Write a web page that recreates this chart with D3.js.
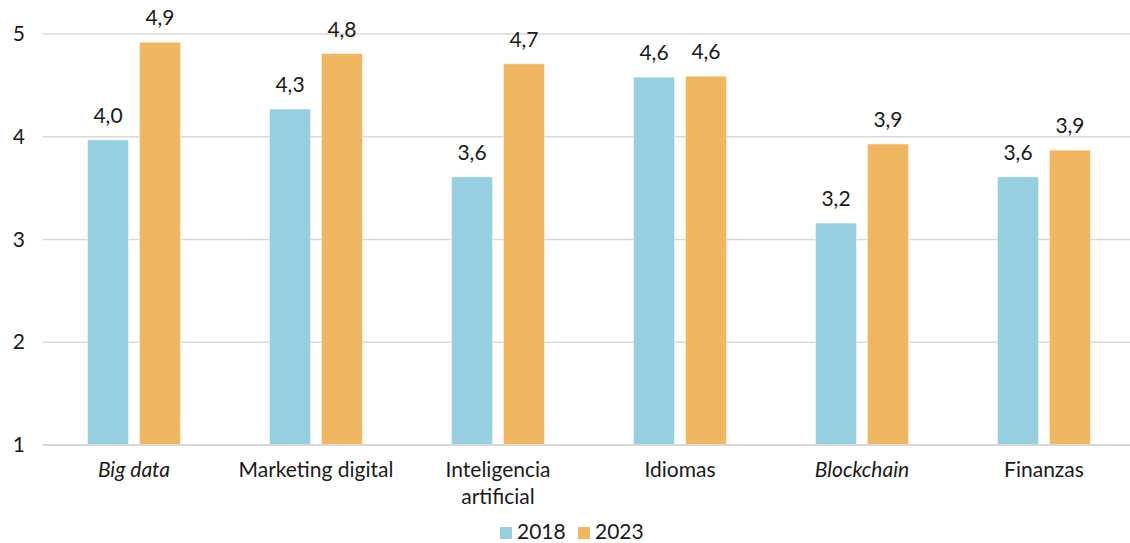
<!DOCTYPE html>
<html><head><meta charset="utf-8">
<script src="https://cdn.jsdelivr.net/npm/d3@7"></script>
<style>body{margin:0;background:#fff}svg{display:block}text{font-family:Lato,"Open Sans",sans-serif;fill:#1a1a1a}</style>
</head><body><svg id="c" width="1130" height="543"></svg>
<script>
const categories = ["Big data","Marketing digital","Inteligencia artificial","Idiomas","Blockchain","Finanzas"];
const italicCats = ["Big data","Blockchain"];
const seriesNames = ["2018","2023"];
const values2018 = [3.97,4.27,3.61,4.58,3.16,3.61];
const values2023 = [4.92,4.81,4.71,4.59,3.93,3.87];
const yTicks = [1,2,3,4,5];
const colors = ["#96cfdf","#f0b660"];

const svg = d3.select("#c");
const margin = {left:43, right:-5, top:34, bottom:98};
const W = 1130, H = 543;
const x0 = d3.scaleBand().domain(categories).range([margin.left, W - margin.right]).paddingInner(0).paddingOuter(0);
const x1 = d3.scaleBand().domain(seriesNames).range([0, x0.bandwidth()]).paddingInner(0.21).paddingOuter(0.856);
const y = d3.scaleLinear().domain([1,5]).range([H - margin.bottom, margin.top]);

// grid
svg.append("g").selectAll("line").data(yTicks).join("line")
  .attr("x1", margin.left).attr("x2", W).attr("y1", d=>y(d)).attr("y2", d=>y(d))
  .attr("stroke", "#d9d9d9").attr("stroke-width", 1.6);

// y axis labels
const yAxis = d3.axisLeft(y).tickValues(yTicks).tickSize(0).tickPadding(0).tickFormat(d3.format("d"));
const ga = svg.append("g").attr("transform", `translate(25,0)`).call(yAxis);
ga.select(".domain").remove();
ga.selectAll("text").style("font-size","21px").attr("fill","#1a1a1a").style("font-family","Lato");

const data = categories.map((c,i)=>({cat:c, vals:[values2018[i], values2023[i]]}));
const fmt = v => d3.format(".1f")(v).replace(".", ",");

const groups = svg.append("g").selectAll("g").data(data).join("g")
  .attr("transform", d=>`translate(${x0(d.cat)},0)`);
groups.selectAll("rect").data(d=>d.vals.map((v,j)=>({s:seriesNames[j], v, j}))).join("rect")
  .attr("x", d=>x1(d.s)).attr("width", x1.bandwidth())
  .attr("y", d=>y(d.v)).attr("height", d=>y(1)-y(d.v))
  .attr("fill", d=>colors[d.j]).attr("stroke","#ffffff").attr("stroke-opacity",0.5).attr("stroke-width",1);
groups.selectAll("text.lbl").data(d=>d.vals.map((v,j)=>({s:seriesNames[j], v, j}))).join("text")
  .attr("class","lbl")
  .attr("x", d=>x1(d.s)+x1.bandwidth()/2).attr("y", d=>y(d.v)-17)
  .attr("text-anchor","middle").style("font-size","21px").text(d=>fmt(d.v));

// baseline redraw
svg.append("line").attr("x1", margin.left).attr("x2", W).attr("y1", y(1)).attr("y2", y(1))
  .attr("stroke","#d9d9d9").attr("stroke-width",2);

// category labels
const xAxis = d3.axisBottom(x0).tickSize(0).tickPadding(0);
const gx = svg.append("g").attr("transform", `translate(0,${y(1)})`).call(xAxis);
gx.select(".domain").remove();
gx.selectAll("text").remove();
gx.selectAll(".tick").each(function(d){
  const t = d3.select(this).append("text").attr("text-anchor","middle")
    .style("font-size","21px").attr("fill","#1a1a1a")
    .style("font-style", italicCats.includes(d) ? "italic" : "normal");
  const lines = d === "Inteligencia artificial" ? ["Inteligencia","artificial"] : [d];
  lines.forEach((ln,k)=>t.append("tspan").attr("x",0).attr("y", 32 + k*27).text(ln));
});

// legend
const leg = svg.append("g").selectAll("g").data(seriesNames).join("g")
  .attr("transform", (d,i)=>`translate(${500 + i*78},527)`);
leg.append("rect").attr("width",12).attr("height",12).attr("fill",(d,i)=>colors[i]);
leg.append("text").attr("x",17).attr("y",12).style("font-size","21px").text(d=>d);
</script></body></html>
